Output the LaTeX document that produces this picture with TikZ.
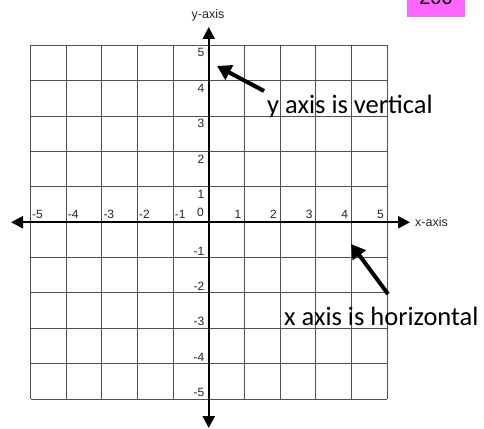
\documentclass[tikz,border=0pt]{standalone}
\usepackage{fontspec}
\setmainfont{Liberation Sans}
\newfontfamily\calfont{Carlito}
\usetikzlibrary{arrows.meta}
\definecolor{pinkbox}{HTML}{FF66FF}
\definecolor{gridc}{HTML}{505050}
\begin{document}
\begin{tikzpicture}[x=1pt,y=-1pt,
  gridline/.style={draw=gridc,line width=1pt},
  axisline/.style={draw=black,line width=2.4pt,{Triangle[length=12pt,width=12pt]}-{Triangle[length=12pt,width=12pt]}},
  tick/.style={font=\fontsize{12}{12}\selectfont,inner sep=1pt,text=black!85},
  axlabel/.style={font=\fontsize{12.5}{12.5}\selectfont,inner sep=1pt,text=black!85},
  callout/.style={draw=black,line width=4pt,-{Triangle[length=14pt,width=16pt]}},
  calltext/.style={font=\calfont\fontsize{26.5}{26.5}\selectfont,inner sep=0pt}]
\useasboundingbox (0,0) rectangle (484,428);
\clip (0,0) rectangle (484,428);
\fill[white] (0,0) rectangle (484,428);
% page tag
\fill[pinkbox] (407,0) rectangle (465,16.7);
\node[font=\fontsize{20}{20}\selectfont,anchor=base,inner sep=0pt] (tag) at (436,5) {200};
% grid
\foreach \i in {0,...,10}{
  \draw[gridline] ({30.5+\i*35.65},45.5) -- ({30.5+\i*35.65},399);
  \draw[gridline] (30.5,{45.5+\i*35.35}) -- (387,{45.5+\i*35.35});
}
% axes
\coordinate (O) at (208.75,222.25);
\coordinate (L) at (11,222.25);
\coordinate (R) at (410,222.25);
\coordinate (T) at (208.75,27);
\coordinate (B) at (208.75,428);
\draw[axisline] (L) -- (R);
\draw[axisline] (B) -- (T);
\node[axlabel,anchor=west] (xl) at (414,222.25) {x-axis};
\node[axlabel] (yl) at (208,15) {y-axis};
% x tick labels
\foreach \i in {1,...,5}{
  \node[tick,anchor=south west] at ({30.5+(5-\i)*35.65+0.5},220) {-\i};
  \node[tick,anchor=south east] at ({208.75+\i*35.65-2},220) {\i};
}
\node[tick,anchor=south east] (zero) at (205,217.5) {0};
% y tick labels
\foreach \i in {1,...,5}{
  \node[tick,anchor=north east] at (205.5,{222.25-\i*35.35+2}) {\i};
  \node[tick,anchor=south east] at (205.5,{222.25+\i*35.35-1}) {-\i};
}
% callouts
\coordinate (ytail) at (264,91);
\coordinate (ytip) at (217,66);
\draw[callout] (ytail) -- (ytip);
\node[calltext,anchor=west] (ytext) at (267,106) {y axis is vertical};
\coordinate (xtail) at (388,294);
\coordinate (xtip) at (351,244);
\draw[callout] (xtail) -- (xtip);
\node[calltext,anchor=west] (xtext) at (284,316) {x axis is horizontal};
\end{tikzpicture}
\end{document}
